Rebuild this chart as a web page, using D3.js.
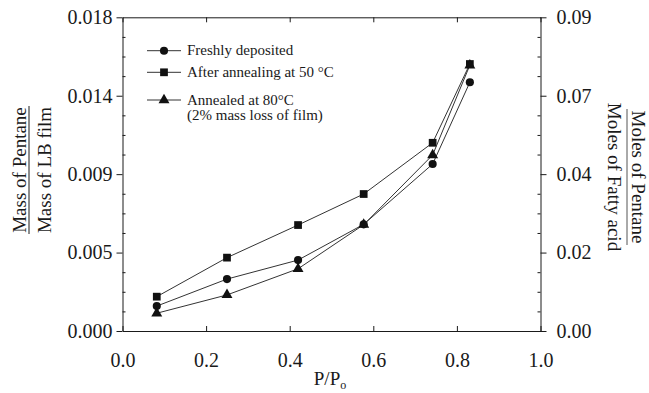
<!DOCTYPE html>
<html>
<head>
<meta charset="utf-8">
<script src="https://cdn.jsdelivr.net/npm/d3@7"></script>
<style>
  html, body { margin: 0; padding: 0; background: #fff; }
  svg { display: block; font-family: "Liberation Serif", "Times New Roman", serif; }
</style>
</head>
<body>
<svg id="chart"></svg>
<script>
// P/P0 values (shared by all three runs)
const pressure = [0.082, 0.250, 0.420, 0.577, 0.742, 0.831];
// mass of pentane / mass of LB film
const freshlyDeposited = [0.00143, 0.00298, 0.00407, 0.00612, 0.00958, 0.01427];
const annealed50 = [0.00197, 0.00421, 0.00608, 0.00786, 0.01080, 0.01532];
const annealed80 = [0.00102, 0.00207, 0.00357, 0.00610, 0.01010, 0.01525];

const seriesNames = ["Freshly deposited", "After annealing at 50 °C", "Annealed at 80°C"];
const seriesNotes = ["", "", "(2% mass loss of film)"];

const xTicks = [0.0, 0.2, 0.4, 0.6, 0.8, 1.0];
const xTickLabels = ["0.0", "0.2", "0.4", "0.6", "0.8", "1.0"];
const leftTicks = [0, 0.0045, 0.009, 0.0135, 0.018];
const leftTickLabels = ["0.000", "0.005", "0.009", "0.014", "0.018"];
const rightTicks = [0, 0.0225, 0.045, 0.0675, 0.09];
const rightTickLabels = ["0.00", "0.02", "0.04", "0.07", "0.09"];

const width = 649, height = 393;
const margin = { top: 17.3, right: 108.5, bottom: 62, left: 122.5 };

const svg = d3.select("#chart").attr("width", width).attr("height", height);

const x = d3.scaleLinear().domain([0, 1]).range([margin.left, width - margin.right]);
const y = d3.scaleLinear().domain([0, 0.018]).range([height - margin.bottom, margin.top]);
const y2 = d3.scaleLinear().domain([0, 0.09]).range([height - margin.bottom, margin.top]);

const ink = "#1a1a1a";
const minorTicks = d3.range(0, 0.018 + 1e-9, 0.001125).filter((d, i) => i % 4 !== 0);

// frame + axes
const styleAxis = (g) => {
  g.select(".domain").attr("stroke", ink).attr("stroke-width", 1);
  g.selectAll(".tick line").attr("stroke", ink);
  g.selectAll(".tick text").attr("fill", ink).attr("font-size", 20)
    .attr("font-family", "Liberation Serif, serif");
};

svg.append("g")
  .attr("transform", `translate(0,${y(0)})`)
  .call(d3.axisBottom(x).tickValues(xTicks).tickFormat((d, i) => xTickLabels[i])
    .tickSizeInner(-5).tickSizeOuter(0).tickPadding(22))
  .call(styleAxis);

svg.append("g")
  .attr("transform", `translate(0,${y(0.018)})`)
  .call(d3.axisTop(x).tickValues(xTicks).tickFormat("").tickSizeInner(-5).tickSizeOuter(0))
  .call(styleAxis);

svg.append("g")
  .attr("transform", `translate(${x(0)},0)`)
  .call(d3.axisLeft(y).tickValues(leftTicks).tickFormat((d, i) => leftTickLabels[i])
    .tickSizeInner(6).tickSizeOuter(0).tickPadding(4))
  .call(styleAxis);

svg.append("g")
  .attr("transform", `translate(${x(0)},0)`)
  .call(d3.axisRight(y).tickValues(minorTicks).tickFormat("").tickSize(3))
  .call(styleAxis)
  .call((g) => g.select(".domain").remove());

svg.append("g")
  .attr("transform", `translate(${x(1)},0)`)
  .call(d3.axisRight(y2).tickValues(rightTicks).tickFormat((d, i) => rightTickLabels[i])
    .tickSizeInner(6).tickSizeOuter(0).tickPadding(10))
  .call(styleAxis);

svg.append("g")
  .attr("transform", `translate(${x(1)},0)`)
  .call(d3.axisLeft(y).tickValues(minorTicks).tickFormat("").tickSize(3))
  .call(styleAxis)
  .call((g) => g.select(".domain").remove());

// series
const symbols = [d3.symbolCircle, d3.symbolSquare, d3.symbolTriangle];
const symbolSizes = [52, 60, 52];
const allSeries = [freshlyDeposited, annealed50, annealed80];

const line = d3.line().x((d) => x(d[0])).y((d) => y(d[1]));

allSeries.forEach((vals, s) => {
  const pts = pressure.map((p, i) => [p, vals[i]]);
  svg.append("path")
    .datum(pts)
    .attr("fill", "none")
    .attr("stroke", "#333")
    .attr("stroke-width", 1)
    .attr("d", line);
  svg.append("g")
    .selectAll("path")
    .data(pts)
    .join("path")
    .attr("transform", (d) => `translate(${x(d[0])},${y(d[1])})`)
    .attr("d", d3.symbol(symbols[s], symbolSizes[s]))
    .attr("fill", "#111");
});

// legend
const legendRows = [50.7, 72.3, 100];
const legend = svg.append("g").attr("font-size", 15).attr("fill", ink);
seriesNames.forEach((name, s) => {
  const ly = legendRows[s];
  legend.append("line")
    .attr("x1", 147).attr("x2", 181).attr("y1", ly).attr("y2", ly)
    .attr("stroke", "#333").attr("stroke-width", 1);
  legend.append("path")
    .attr("transform", `translate(164,${ly})`)
    .attr("d", d3.symbol(symbols[s], symbolSizes[s]))
    .attr("fill", "#111");
  legend.append("text").attr("x", 187).attr("y", ly + 4.5).text(name);
  if (seriesNotes[s]) {
    legend.append("text").attr("x", 187).attr("y", ly + 19.5).text(seriesNotes[s]);
  }
});

// left title (fraction)
const lt = svg.append("g")
  .attr("transform", "translate(29,170) rotate(-90)")
  .attr("font-size", 19).attr("fill", ink).attr("text-anchor", "middle");
lt.append("text").attr("y", -3).text("Mass of Pentane");
lt.append("text").attr("y", 22).text("Mass of LB film");
lt.append("line").attr("x1", -64).attr("x2", 64).attr("y1", 0).attr("y2", 0)
  .attr("stroke", ink).attr("stroke-width", 1);

// right title (fraction)
const rt = svg.append("g")
  .attr("transform", "translate(627,177) rotate(90)")
  .attr("font-size", 19).attr("fill", ink).attr("text-anchor", "middle");
rt.append("text").attr("y", -5).text("Moles of Pentane");
rt.append("text").attr("y", 19).text("Moles of Fatty acid");
rt.append("line").attr("x1", -68).attr("x2", 68).attr("y1", 0).attr("y2", 0)
  .attr("stroke", "#555").attr("stroke-width", 1);

// x title
const xt = svg.append("text")
  .attr("x", 330).attr("y", 385)
  .attr("text-anchor", "middle").attr("font-size", 19).attr("fill", ink);
xt.append("tspan").text("P/P");
xt.append("tspan").attr("dy", 4).attr("font-size", 12).text("o");
</script>
</body>
</html>
